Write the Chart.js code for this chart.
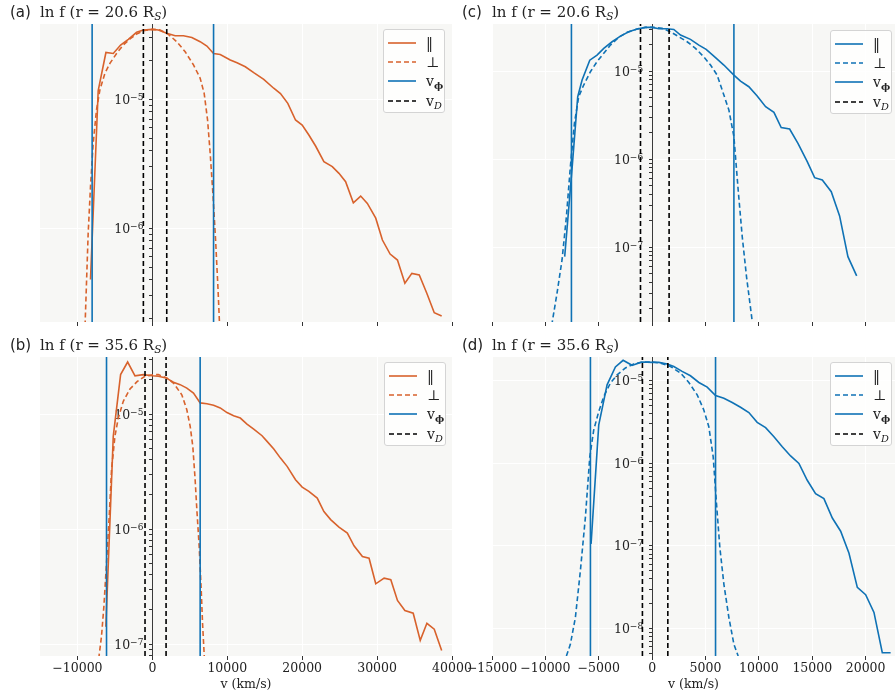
<!DOCTYPE html>
<html>
<head>
<meta charset="utf-8">
<script src="https://cdn.jsdelivr.net/npm/chart.js@4.4.1/dist/chart.umd.min.js"></script>
<style>
  body { margin: 0; width: 895px; height: 697px; position: relative; overflow: hidden; background: #fff; font-family: "DejaVu Serif", serif; color: #222; }
  canvas { position: absolute; }
  .ttl { position: absolute; font-size: 15px; line-height: 15px; white-space: nowrap; }
  .tag { font-family: "DejaVu Sans", sans-serif; }
  sub { font-size: 0.7em; vertical-align: -0.3em; line-height: 0; }
  .leg { position: absolute; width: 62px; height: 84px; box-sizing: border-box; border: 1px solid #d4d4d4; border-radius: 3px; background: rgba(255,255,255,0.8); }
  .row { position: absolute; left: 4px; height: 18px; width: 56px; }
  .row svg { position: absolute; left: 0; top: 4px; }
  .row span { position: absolute; left: 38px; top: 0; font-size: 14px; line-height: 18px; }
</style>
</head>
<body>
<script>
// colours
const ORANGE = '#d8622c';
const BLUE = '#0f72b5';

// x ticks
const xTicksLeft = [-10000, 0, 10000, 20000, 30000, 40000];
const xTicksRight = [-15000, -10000, -5000, 0, 5000, 10000, 15000, 20000];

// (a) r = 20.6 Rs
const vParA = [-8260, -7230, -6200, -5220, -4240, -3210, -2100, -1200, 0, 800, 1920, 3040, 4150, 5270, 6380, 7280, 8170, 9060, 10400, 11300, 12410, 13530, 14870, 16200, 17100, 18080, 19110, 20000, 20890, 21790, 22900, 24020, 24910, 25800, 26830, 27810, 28700, 29820, 30710, 31740, 32720, 33710, 34640, 35630, 36650, 37630, 38620];
const fParA = [4.02e-7, 1.17e-5, 2.31e-5, 2.27e-5, 2.64e-5, 2.92e-5, 3.31e-5, 3.45e-5, 3.49e-5, 3.45e-5, 3.25e-5, 3.11e-5, 3.11e-5, 3.02e-5, 2.80e-5, 2.59e-5, 2.27e-5, 2.23e-5, 2.02e-5, 1.92e-5, 1.79e-5, 1.61e-5, 1.43e-5, 1.22e-5, 1.11e-5, 9.31e-6, 6.92e-6, 6.32e-6, 5.29e-6, 4.35e-6, 3.29e-6, 3.01e-6, 2.67e-6, 2.30e-6, 1.58e-6, 1.78e-6, 1.56e-6, 1.20e-6, 8.12e-7, 6.32e-7, 5.68e-7, 3.75e-7, 4.48e-7, 4.35e-7, 3.13e-7, 2.22e-7, 2.09e-7];
const vPerA = [-9020, -8570, -8260, -7900, -7460, -7010, -6340, -5670, -4780, -3880, -2990, -2100, -1200, 0, 1030, 2140, 3260, 4380, 5490, 6380, 6920, 7370, 7720, 8080, 8440, 8750, 9060];
const fPerA = [1.53e-7, 9.14e-7, 2.10e-6, 4.56e-6, 8.27e-6, 1.18e-5, 1.59e-5, 1.90e-5, 2.27e-5, 2.64e-5, 2.94e-5, 3.21e-5, 3.40e-5, 3.49e-5, 3.45e-5, 3.19e-5, 2.80e-5, 2.34e-5, 1.85e-5, 1.46e-5, 1.11e-5, 6.92e-6, 3.81e-6, 1.87e-6, 8.12e-7, 3.53e-7, 1.36e-7];
const vPhiA = [-8040, 8170];
const vDA = [-1200, 1920];

// (b) r = 35.6 Rs
const vParB = [-6210, -5220, -4240, -3300, -2320, -1210, 0, 800, 1830, 2810, 3710, 4600, 5490, 6380, 7280, 8170, 9060, 9960, 10850, 11740, 12630, 13530, 14640, 15310, 16210, 17100, 17990, 19110, 20000, 20890, 22010, 22900, 23800, 24910, 26030, 26920, 28040, 28930, 29820, 30940, 31830, 32720, 33710, 34820, 35760, 36650, 37630, 38620];
const fParB = [1.42e-7, 6.39e-6, 2.20e-5, 2.83e-5, 2.15e-5, 2.20e-5, 2.15e-5, 2.13e-5, 2.06e-5, 1.89e-5, 1.80e-5, 1.68e-5, 1.52e-5, 1.25e-5, 1.23e-5, 1.19e-5, 1.13e-5, 1.03e-5, 9.67e-6, 9.23e-6, 8.18e-6, 7.41e-6, 6.48e-6, 5.79e-6, 4.96e-6, 4.14e-6, 3.51e-6, 2.69e-6, 2.32e-6, 2.13e-6, 1.86e-6, 1.42e-6, 1.21e-6, 1.04e-6, 9.23e-7, 7.16e-7, 5.79e-7, 5.59e-7, 3.35e-7, 3.75e-7, 3.63e-7, 2.40e-7, 1.96e-7, 1.86e-7, 1.08e-7, 1.52e-7, 1.35e-7, 8.81e-8];
const vPerB = [-7230, -7100, -6790, -6470, -6120, -5760, -5450, -5000, -4550, -3880, -2990, -2010, -980, 130, 800, 1920, 2810, 3930, 4600, 5050, 5400, 5710, 5940, 6250, 6520, 6700, 6920, 7010];
const fPerB = [6.4e-8, 8.07e-8, 1.17e-7, 2.13e-7, 5.06e-7, 1.29e-6, 3.28e-6, 6.39e-6, 9.23e-6, 1.29e-5, 1.65e-5, 1.92e-5, 2.13e-5, 2.20e-5, 2.20e-5, 2.06e-5, 1.86e-5, 1.47e-5, 1.09e-5, 7.81e-6, 5.23e-6, 2.69e-6, 1.47e-6, 7.07e-7, 2.97e-7, 1.52e-7, 8.07e-8, 6.4e-8];
const vPhiB = [-6120, 6380];
const vDB = [-980, 1830];

// (c) r = 20.6 Rs
const vParC = [-8190, -7500, -6970, -6560, -5840, -5160, -4530, -3750, -2970, -2190, -1410, -630, 0, 630, 1410, 2030, 2660, 3590, 4380, 5060, 5780, 6720, 7660, 8280, 9060, 9840, 10630, 11410, 12090, 12880, 13660, 14530, 15220, 15940, 16780, 17560, 18340, 19160];
const fParC = [7.83e-8, 7.87e-7, 5.12e-6, 7.90e-6, 1.33e-5, 1.52e-5, 1.81e-5, 2.15e-5, 2.49e-5, 2.79e-5, 3.00e-5, 3.13e-5, 3.13e-5, 3.02e-5, 3.02e-5, 2.97e-5, 2.56e-5, 2.29e-5, 1.97e-5, 1.76e-5, 1.48e-5, 1.17e-5, 9.01e-6, 7.70e-6, 6.64e-6, 5.21e-6, 3.94e-6, 3.40e-6, 2.28e-6, 2.20e-6, 1.51e-6, 9.37e-7, 6.17e-7, 5.80e-7, 4.28e-7, 2.27e-7, 7.83e-8, 4.73e-8];
const vPerC = [-9530, -8910, -8440, -8030, -7660, -7280, -6880, -6410, -5780, -5160, -4530, -3910, -3130, -2340, -1410, -630, 160, 940, 1720, 2500, 3280, 4060, 4840, 5470, 6090, 6720, 7190, 7660, 8060, 8440, 8840, 9380, 9530];
const fPerC = [1.06e-8, 3.01e-8, 7.18e-8, 2.23e-7, 8.22e-7, 2.55e-6, 5.12e-6, 6.94e-6, 9.83e-6, 1.28e-5, 1.59e-5, 1.97e-5, 2.41e-5, 2.75e-5, 3.00e-5, 3.13e-5, 3.13e-5, 3.05e-5, 2.79e-5, 2.45e-5, 2.15e-5, 1.81e-5, 1.45e-5, 1.17e-5, 9.01e-6, 5.34e-6, 3.61e-6, 1.80e-6, 4.47e-7, 1.32e-7, 4.65e-8, 1.44e-8, 1.0e-8];
const vPhiC = [-7560, 7660];
const vDC = [-1090, 1590];

// (d) r = 35.6 Rs
const vParD = [-5720, -5000, -4220, -3440, -2720, -1880, -940, 0, 630, 1410, 2030, 2810, 3590, 4380, 5160, 5940, 6720, 7500, 8280, 9060, 9840, 10630, 11410, 12190, 12970, 13750, 14530, 15310, 16090, 16880, 17660, 18440, 19220, 20000, 20780, 21560, 22340];
const fParD = [1.06e-7, 2.92e-6, 8.94e-6, 1.47e-5, 1.77e-5, 1.54e-5, 1.69e-5, 1.67e-5, 1.67e-5, 1.60e-5, 1.49e-5, 1.30e-5, 1.15e-5, 9.54e-6, 8.37e-6, 6.63e-6, 6.15e-6, 5.45e-6, 4.78e-6, 4.12e-6, 3.14e-6, 2.71e-6, 2.10e-6, 1.59e-6, 1.23e-6, 1.00e-6, 6.25e-7, 4.31e-7, 3.74e-7, 2.18e-7, 1.51e-7, 8.18e-8, 3.16e-8, 2.57e-8, 1.57e-8, 5.11e-9, 5.11e-9];
const vPerD = [-8030, -7660, -7190, -6720, -6250, -5840, -5470, -5000, -4530, -3910, -3280, -2500, -1720, -940, 0, 780, 1720, 2660, 3440, 4220, 4840, 5310, 5720, 6030, 6340, 6720, 7190, 7660, 8060];
const fPerD = [4.66e-9, 6.46e-9, 1.36e-8, 5.03e-8, 2.24e-7, 1.20e-6, 2.54e-6, 4.24e-6, 6.45e-6, 9.37e-6, 1.18e-5, 1.43e-5, 1.60e-5, 1.69e-5, 1.69e-5, 1.64e-5, 1.49e-5, 1.24e-5, 9.54e-6, 6.76e-6, 4.44e-6, 2.78e-6, 1.20e-6, 3.25e-7, 9.67e-8, 3.46e-8, 1.36e-8, 6.46e-9, 4.66e-9];
const vPhiD = [-5780, 5940];
const vDD = [-910, 1470];

const legendLabels = ['‖', '⊥', 'v<sub><b>ϕ</b></sub>', 'v<sub><i>D</i></sub>'];

Chart.defaults.font.family = '"DejaVu Serif", serif';
Chart.defaults.color = '#222';

function isDecade(v) {
  const e = Math.log10(v);
  return Math.abs(e - Math.round(e)) < 1e-6;
}
function logTicks(min, max) {
  let out = [];
  for (let e = Math.floor(Math.log10(min)); e <= Math.ceil(Math.log10(max)); e++) {
    for (let m = 1; m < 10; m++) {
      const v = m * Math.pow(10, e);
      if (v >= min && v <= max) out.push({value: v});
    }
  }
  return out;
}
const fmtX = v => v < 0 ? '\u2212' + Math.abs(v) : String(v);

const bgPlugin = {
  id: 'bg',
  beforeDraw(chart) {
    const {ctx, chartArea: a} = chart;
    ctx.save();
    ctx.fillStyle = '#f7f7f5';
    ctx.fillRect(a.left, a.top, a.right - a.left, a.bottom - a.top);
    ctx.restore();
  }
};

// 10^n labels next to the y axis (which sits at v = 0), under the curves
const expLabels = {
  id: 'expLabels',
  beforeDatasetsDraw(chart) {
    const ys = chart.scales.y;
    const x0 = chart.scales.x.getPixelForValue(0);
    const ctx = chart.ctx;
    ctx.save();
    ctx.fillStyle = '#222';
    ctx.textAlign = 'right';
    ctx.textBaseline = 'alphabetic';
    ys.ticks.forEach(t => {
      if (!isDecade(t.value)) return;
      const py = ys.getPixelForValue(t.value);
      const ex = '\u2212' + Math.abs(Math.round(Math.log10(t.value)));
      const right = x0 - 9;
      ctx.font = '9px "DejaVu Serif"';
      const we = ctx.measureText(ex).width;
      ctx.fillText(ex, right, py + 0.5);
      ctx.font = '12.5px "DejaVu Serif"';
      ctx.fillText('10', right - we, py + 4.5);
    });
    ctx.restore();
  }
};

function makePanel(p) {
  const canvas = document.createElement('canvas');
  canvas.width = p.w; canvas.height = p.h;
  canvas.style.left = p.left + 'px';
  canvas.style.top = p.top + 'px';
  document.body.appendChild(canvas);

  const zip = (xs, ys) => xs.map((x, i) => ({x: x, y: ys[i]}));
  const vline = (x, col, order) => ({
    data: [{x: x, y: p.yMin}, {x: x, y: p.yMax}],
    borderColor: col, borderWidth: 1.6, pointRadius: 0, order: order,
    borderDash: col === '#000' ? [5, 3] : []
  });
  const font = {size: 12.5, family: '"DejaVu Serif", serif'};

  new Chart(canvas, {
    type: 'line',
    data: {
      datasets: [
        {data: zip(p.vPar, p.fPar), borderColor: p.col, borderWidth: 1.6, pointRadius: 0, order: 4},
        {data: zip(p.vPer, p.fPer), borderColor: p.col, borderWidth: 1.6, pointRadius: 0, borderDash: [5, 3], order: 3},
        vline(p.vPhi[0], BLUE, 2), vline(p.vPhi[1], BLUE, 2),
        vline(p.vD[0], '#000', 1), vline(p.vD[1], '#000', 1)
      ]
    },
    options: {
      responsive: false,
      animation: false,
      events: [],
      devicePixelRatio: 1,
      layout: {padding: p.pad},
      plugins: {legend: {display: false}, tooltip: {enabled: false}},
      scales: {
        x: {
          type: 'linear', min: -15000, max: p.xMax,
          afterBuildTicks: s => { s.ticks = p.xTicks.map(v => ({value: v})); },
          ticks: {display: p.labels, callback: fmtX, font: font, color: '#222', padding: 1, maxRotation: 0, autoSkip: false},
          grid: {color: '#ffffff', lineWidth: 1, tickColor: '#333', tickLength: 4, tickWidth: 1},
          border: {display: false},
          title: {display: p.labels, text: 'v (km/s)', font: font, color: '#222', padding: {top: 0.5, bottom: 0}}
        },
        y: {
          type: 'logarithmic', min: p.yMin, max: p.yMax, position: {x: 0},
          afterBuildTicks: s => { s.ticks = logTicks(p.yMin, p.yMax); },
          ticks: {display: false},
          grid: {
            color: c => (c.tick && isDecade(c.tick.value)) ? '#ffffff' : 'rgba(0,0,0,0)',
            lineWidth: 1, tickColor: '#333', tickLength: 3, tickWidth: 1
          },
          border: {display: true, color: '#3a3a3a', width: 1}
        }
      }
    },
    plugins: [bgPlugin, expLabels]
  });

  // title
  const tag = document.createElement('div');
  tag.className = 'ttl tag';
  tag.style.left = p.tagX + 'px'; tag.style.top = p.ttlY + 'px';
  tag.textContent = p.tag;
  document.body.appendChild(tag);
  const ttl = document.createElement('div');
  ttl.className = 'ttl';
  ttl.style.left = p.ttlX + 'px'; ttl.style.top = p.ttlY + 'px';
  ttl.innerHTML = 'ln f (r = ' + p.r + ' R<sub><i>S</i></sub>)';
  document.body.appendChild(ttl);

  // legend
  const leg = document.createElement('div');
  leg.className = 'leg';
  leg.style.left = p.legX + 'px'; leg.style.top = p.legY + 'px';
  const styles = [[p.col, ''], [p.col, '5,3'], [BLUE, ''], ['#000', '5,3']];
  styles.forEach((s, i) => {
    const row = document.createElement('div');
    row.className = 'row';
    row.style.top = (3.5 + 19.4 * i) + 'px';
    row.innerHTML = '<svg width="30" height="10"><line x1="0" y1="5" x2="28" y2="5" stroke="' + s[0] +
      '" stroke-width="1.6"' + (s[1] ? ' stroke-dasharray="' + s[1] + '"' : '') + '/></svg><span>' + legendLabels[i] + '</span>';
    leg.appendChild(row);
  });
  document.body.appendChild(leg);
}

makePanel({left: 0, top: 0, w: 480, h: 330, pad: {left: 40, top: 24, right: 28, bottom: 4},
  col: ORANGE, vPar: vParA, fPar: fParA, vPer: vPerA, fPer: fPerA, vPhi: vPhiA, vD: vDA,
  yMin: 1.88e-7, yMax: 3.84e-5, xMax: 40000, xTicks: xTicksLeft, labels: false,
  tag: '(a)', r: '20.6', tagX: 10, ttlX: 40, ttlY: 5, legX: 383, legY: 29});
makePanel({left: 0, top: 330, w: 480, h: 367, pad: {left: 40, top: 27, right: 28, bottom: 4.5},
  col: ORANGE, vPar: vParB, fPar: fParB, vPer: vPerB, fPer: fPerB, vPhi: vPhiB, vD: vDB,
  yMin: 7.9e-8, yMax: 3.13e-5, xMax: 40000, xTicks: xTicksLeft, labels: true,
  tag: '(b)', r: '35.6', tagX: 10, ttlX: 40, ttlY: 338, legX: 384, legY: 362});
makePanel({left: 455, top: 0, w: 440, h: 330, pad: {left: 37, top: 24, right: 0, bottom: 4},
  col: BLUE, vPar: vParC, fPar: fParC, vPer: vPerC, fPer: fPerC, vPhi: vPhiC, vD: vDC,
  yMin: 1.42e-8, yMax: 3.42e-5, xMax: 22750, xTicks: xTicksRight, labels: false,
  tag: '(c)', r: '20.6', tagX: 462, ttlX: 492, ttlY: 5, legX: 830, legY: 30});
makePanel({left: 455, top: 330, w: 440, h: 367, pad: {left: 37, top: 27, right: 0, bottom: 4.5},
  col: BLUE, vPar: vParD, fPar: fParD, vPer: vPerD, fPer: fPerD, vPhi: vPhiD, vD: vDD,
  yMin: 4.66e-9, yMax: 1.94e-5, xMax: 22750, xTicks: xTicksRight, labels: true,
  tag: '(d)', r: '35.6', tagX: 462, ttlX: 492, ttlY: 338, legX: 830, legY: 362});
</script>
</body>
</html>
